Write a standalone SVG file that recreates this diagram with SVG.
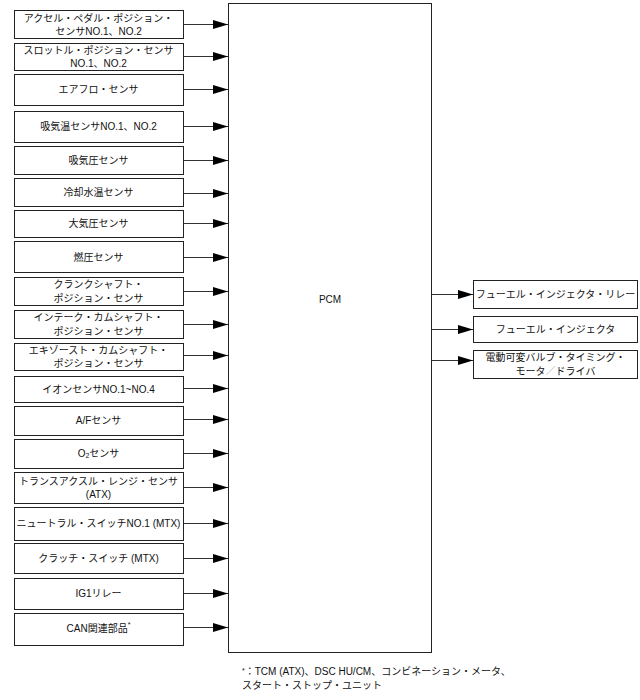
<svg xmlns="http://www.w3.org/2000/svg" width="640" height="700" viewBox="0 0 640 700">
<style>
rect{fill:#fff;stroke:#222;stroke-width:1}
text{font-family:"Liberation Sans","Noto Sans CJK JP",sans-serif;font-size:10px;fill:#111;text-anchor:middle}
.c line{stroke:#333;stroke-width:1;marker-end:url(#ah)}
.fn{text-anchor:start}
</style>
<defs>
<marker id="ah" markerUnits="userSpaceOnUse" markerWidth="15" markerHeight="9" refX="15" refY="4.5" orient="auto"><path d="M0,0 L15,4.5 L0,9 z" fill="#000"/></marker>
</defs>
<g id="pcm"><rect x="228.5" y="3.5" width="203" height="649"/><text x="330" y="303">PCM</text></g>
<g id="n1"><rect x="14.5" y="10.5" width="169" height="28"/><text x="98.5" y="21.5">アクセル・ペダル・ポジション・</text><text x="98.5" y="35">センサNO.1、NO.2</text></g>
<g id="n2"><rect x="14.5" y="43.5" width="169" height="27"/><text x="98.5" y="54">スロットル・ポジション・センサ</text><text x="98.5" y="67">NO.1、NO.2</text></g>
<g id="n3"><rect x="14.5" y="74.5" width="169" height="31"/><text x="98.5" y="93">エアフロ・センサ</text></g>
<g id="n4"><rect x="14.5" y="111.5" width="169" height="31"/><text x="98.5" y="130">吸気温センサNO.1、NO.2</text></g>
<g id="n5"><rect x="14.5" y="146.5" width="169" height="28"/><text x="98.5" y="164">吸気圧センサ</text></g>
<g id="n6"><rect x="14.5" y="178.5" width="169" height="28"/><text x="98.5" y="196">冷却水温センサ</text></g>
<g id="n7"><rect x="14.5" y="210.5" width="169" height="27"/><text x="98.5" y="227">大気圧センサ</text></g>
<g id="n8"><rect x="14.5" y="241.5" width="169" height="31"/><text x="98.5" y="261">燃圧センサ</text></g>
<g id="n9"><rect x="14.5" y="277.5" width="169" height="28"/><text x="98.5" y="288">クランクシャフト・</text><text x="98.5" y="301.5">ポジション・センサ</text></g>
<g id="n10"><rect x="14.5" y="310.5" width="169" height="28"/><text x="98.5" y="321">インテーク・カムシャフト・</text><text x="98.5" y="334.5">ポジション・センサ</text></g>
<g id="n11"><rect x="14.5" y="343.5" width="169" height="27"/><text x="98.5" y="353.5">エキゾースト・カムシャフト・</text><text x="98.5" y="367">ポジション・センサ</text></g>
<g id="n12"><rect x="14.5" y="376.5" width="169" height="26"/><text x="98.5" y="393">イオンセンサNO.1~NO.4</text></g>
<g id="n13"><rect x="14.5" y="406.5" width="169" height="29"/><text x="98.5" y="424">A/Fセンサ</text></g>
<g id="n14"><rect x="14.5" y="439.5" width="169" height="29"/><text x="98.5" y="457">O<tspan font-size="7" dy="1">2</tspan><tspan dy="-1">センサ</tspan></text></g>
<g id="n15"><rect x="14.5" y="472.5" width="169" height="31"/><text x="98.5" y="484.5">トランスアクスル・レンジ・センサ</text><text x="98.5" y="498">(ATX)</text></g>
<g id="n16"><rect x="14.5" y="507.5" width="169" height="33"/><text x="98.5" y="527">ニュートラル・スイッチNO.1 (MTX)</text></g>
<g id="n17"><rect x="14.5" y="543.5" width="169" height="30"/><text x="98.5" y="562">クラッチ・スイッチ (MTX)</text></g>
<g id="n18"><rect x="14.5" y="578.5" width="169" height="31"/><text x="98.5" y="597">IG1リレー</text></g>
<g id="n19"><rect x="14.5" y="613.5" width="169" height="32"/><text x="98.5" y="632">CAN関連部品<tspan font-size="7" dy="-5">*</tspan></text></g>
<g id="o1"><rect x="473.5" y="280.5" width="164" height="28"/><text x="555.5" y="298">フューエル・インジェクタ・リレー</text></g>
<g id="o2"><rect x="473.5" y="316.5" width="164" height="26"/><text x="555.5" y="333">フューエル・インジェクタ</text></g>
<g id="o3"><rect x="473.5" y="350.5" width="164" height="28"/><text x="555.5" y="361">電動可変バルブ・タイミング・</text><text x="555.5" y="374.5">モータ<tspan fill="#999">／</tspan>ドライバ</text></g>
<g class="c" id="connectors">
<line x1="184" y1="24.5" x2="228" y2="24.5"/>
<line x1="184" y1="56.5" x2="228" y2="56.5"/>
<line x1="184" y1="89.5" x2="228" y2="89.5"/>
<line x1="184" y1="126.5" x2="228" y2="126.5"/>
<line x1="184" y1="160.5" x2="228" y2="160.5"/>
<line x1="184" y1="193.5" x2="228" y2="193.5"/>
<line x1="184" y1="223.5" x2="228" y2="223.5"/>
<line x1="184" y1="257.5" x2="228" y2="257.5"/>
<line x1="184" y1="291.5" x2="228" y2="291.5"/>
<line x1="184" y1="324.5" x2="228" y2="324.5"/>
<line x1="184" y1="355.5" x2="228" y2="355.5"/>
<line x1="184" y1="388.5" x2="228" y2="388.5"/>
<line x1="184" y1="419.5" x2="228" y2="419.5"/>
<line x1="184" y1="453.5" x2="228" y2="453.5"/>
<line x1="184" y1="487.5" x2="228" y2="487.5"/>
<line x1="184" y1="523.5" x2="228" y2="523.5"/>
<line x1="184" y1="558.5" x2="228" y2="558.5"/>
<line x1="184" y1="593.5" x2="228" y2="593.5"/>
<line x1="184" y1="627.5" x2="228" y2="627.5"/>
<line x1="432" y1="294.5" x2="473" y2="294.5"/>
<line x1="432" y1="329.5" x2="473" y2="329.5"/>
<line x1="432" y1="360.5" x2="473" y2="360.5"/>
</g>
<text class="fn" x="242" y="675"><tspan font-size="7" dy="-2">*</tspan><tspan dy="2">：TCM (ATX)、DSC HU/CM、コンビネーション・メータ、</tspan></text>
<text class="fn" x="242" y="689">スタート・ストップ・ユニット</text>
</svg>
